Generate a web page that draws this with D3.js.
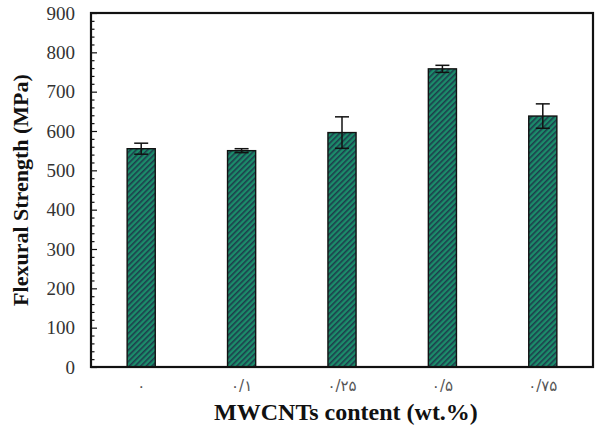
<!DOCTYPE html>
<html>
<head>
<meta charset="utf-8">
<script src="https://cdn.jsdelivr.net/npm/d3@7"></script>
<style>
  body { margin: 0; background: #fff; }
</style>
</head>
<body>
<svg id="chart" width="599" height="428"></svg>
<script>
// values
const categories = ["۰", "۰/۱", "۰/۲۵", "۰/۵", "۰/۷۵"]
const strength = [555, 550, 596, 758, 638]
const errors = [14, 5, 40, 9, 31]
const yTicks = [0, 100, 200, 300, 400, 500, 600, 700, 800, 900]

const svg = d3.select('#chart')
const margin = { left: 91, right: 6, top: 13, bottom: 61 }
const width = 599 - margin.left - margin.right
const height = 428 - margin.top - margin.bottom

// hatch pattern like the excel "wide upward diagonal"
const defs = svg.append('defs')
const pat = defs.append('pattern')
  .attr('id', 'hatch')
  .attr('patternUnits', 'userSpaceOnUse')
  .attr('width', 4).attr('height', 4)
  .attr('patternTransform', 'rotate(45)')
pat.append('rect').attr('width', 4).attr('height', 4).attr('fill', '#1b8c6a')
pat.append('rect').attr('width', 1.6).attr('height', 4).attr('fill', '#1d3d4c')

const g = svg.append('g').attr('transform', `translate(${margin.left},${margin.top})`)

const x = d3.scaleBand().domain(categories).range([0, width]).paddingInner(0.72).paddingOuter(0.36)
const y = d3.scaleLinear().domain([0, 900]).range([height, 0])

const rows = categories.map((c, i) => ({ c, v: strength[i], e: errors[i] }))

g.selectAll('rect.bar')
  .data(rows)
  .enter()
  .append('rect')
  .attr('class', 'bar')
  .attr('x', d => x(d.c))
  .attr('y', d => y(d.v))
  .attr('width', x.bandwidth())
  .attr('height', d => height - y(d.v))
  .attr('fill', 'url(#hatch)')
  .attr('stroke', '#111')
  .attr('stroke-width', 1.4)

// error bars
const eb = g.selectAll('g.err').data(rows).enter().append('g').attr('class', 'err')
  .attr('stroke', '#111').attr('stroke-width', 1.5)
eb.append('line')
  .attr('x1', d => x(d.c) + x.bandwidth() / 2)
  .attr('x2', d => x(d.c) + x.bandwidth() / 2)
  .attr('y1', d => y(d.v - d.e))
  .attr('y2', d => y(d.v + d.e))
eb.append('line')
  .attr('x1', d => x(d.c) + x.bandwidth() / 2 - 7)
  .attr('x2', d => x(d.c) + x.bandwidth() / 2 + 7)
  .attr('y1', d => y(d.v + d.e))
  .attr('y2', d => y(d.v + d.e))
eb.append('line')
  .attr('x1', d => x(d.c) + x.bandwidth() / 2 - 7)
  .attr('x2', d => x(d.c) + x.bandwidth() / 2 + 7)
  .attr('y1', d => y(d.v - d.e))
  .attr('y2', d => y(d.v - d.e))

// minor ticks, inside
const minor = d3.range(0, 901, 20).filter(v => v % 100 != 0)
g.append('g')
  .call(d3.axisRight(y).tickValues(minor).tickSize(3.5).tickFormat(''))
  .call(s => s.select('.domain').remove())
  .selectAll('line').attr('stroke', '#111').attr('stroke-width', 1.2)

// major ticks inside, labels outside
const yAxis = g.append('g')
  .call(d3.axisRight(y).tickValues(yTicks).tickSize(6).tickFormat(''))
yAxis.select('.domain').remove()
yAxis.selectAll('line').attr('stroke', '#111').attr('stroke-width', 1.2)

g.selectAll('text.ylab')
  .data(yTicks)
  .enter()
  .append('text')
  .attr('class', 'ylab')
  .attr('x', -16)
  .attr('y', d => y(d))
  .attr('dy', '0.35em')
  .attr('text-anchor', 'end')
  .attr('font-family', 'Liberation Serif, serif')
  .attr('font-size', 19)
  .attr('fill', '#333')
  .text(d => d)

// x labels, no ticks
const xAxis = g.append('g')
  .attr('transform', `translate(0,${height})`)
  .call(d3.axisBottom(x).tickSize(0).tickPadding(13))
xAxis.select('.domain').remove()
xAxis.selectAll('text')
  .attr('font-family', 'DejaVu Sans, sans-serif')
  .attr('font-size', 15)
  .attr('letter-spacing', 3)
  .attr('fill', '#555')

// frame
g.append('rect')
  .attr('width', width).attr('height', height)
  .attr('fill', 'none').attr('stroke', '#111').attr('stroke-width', 2.2)

svg.append('text')
  .attr('x', margin.left + width / 2 + 4)
  .attr('y', 420)
  .attr('text-anchor', 'middle')
  .attr('font-family', 'Liberation Serif, serif')
  .attr('font-weight', 'bold')
  .attr('font-size', 24)
  .attr('fill', '#111')
  .text('MWCNTs content (wt.%)')

svg.append('text')
  .attr('transform', `translate(28,${margin.top + height / 2}) rotate(-90)`)
  .attr('text-anchor', 'middle')
  .attr('font-family', 'Liberation Serif, serif')
  .attr('font-weight', 'bold')
  .attr('font-size', 22)
  .attr('fill', '#111')
  .text('Flexural Strength (MPa)')
</script>
</body>
</html>
